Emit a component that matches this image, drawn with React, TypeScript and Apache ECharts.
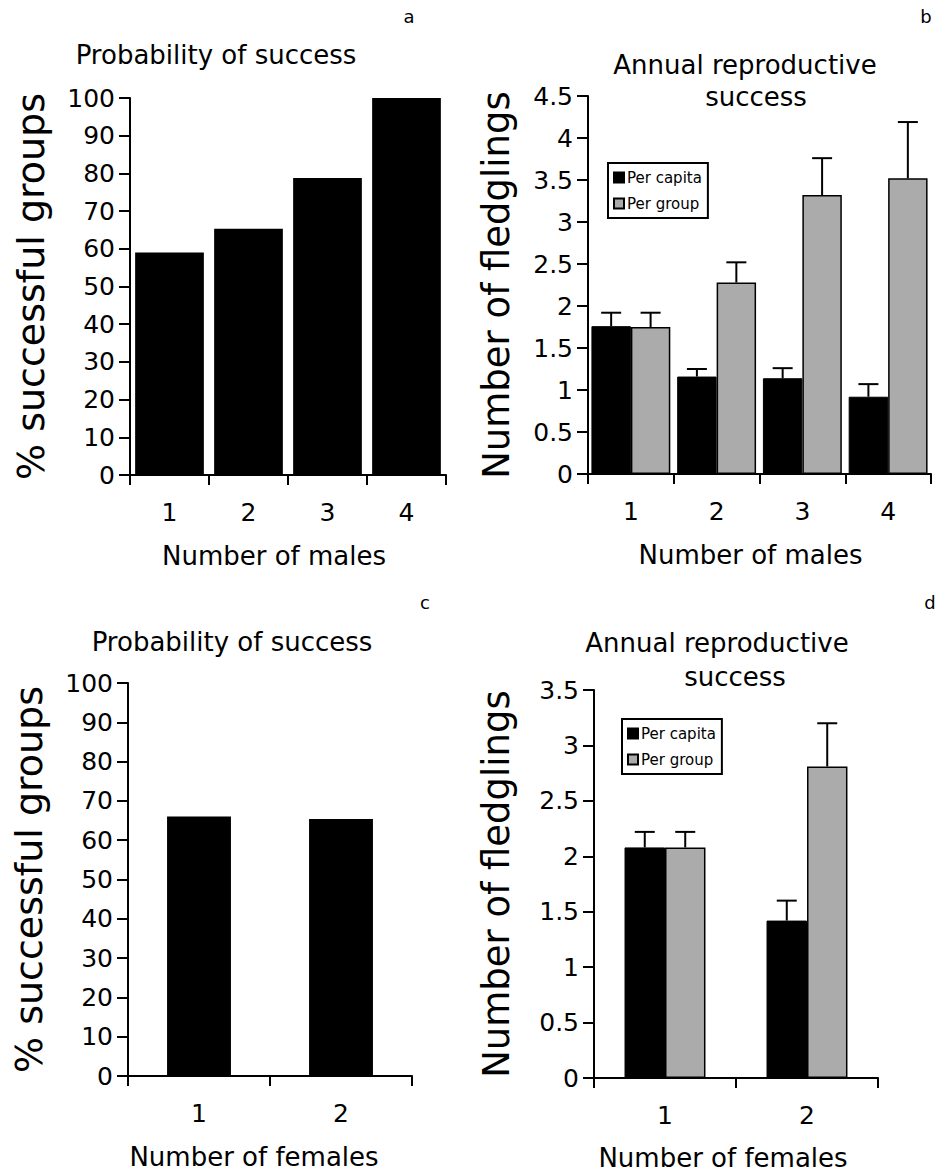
import React, { useEffect, useRef } from "react";
import * as echarts from "echarts";

// ---- data ----
const malesCats = ["1", "2", "3", "4"];
const successByMales = [59, 65.3, 78.8, 100];

const perCapitaMales = [1.76, 1.16, 1.14, 0.92];
const perCapitaMalesErr = [1.92, 1.25, 1.26, 1.07];
const perGroupMales = [1.75, 2.28, 3.32, 3.52];
const perGroupMalesErr = [1.92, 2.52, 3.76, 4.19];

const femalesCats = ["1", "2"];
const successByFemales = [66, 65.4];

const perCapitaFemales = [2.08, 1.42];
const perCapitaFemalesErr = [2.22, 1.6];
const perGroupFemales = [2.08, 2.81];
const perGroupFemalesErr = [2.22, 3.2];

const FONT = '"DejaVu Sans", "Open Sans", sans-serif';
const GRAY = "#ababab";

const GAP_B = 0.08;
const GAP_D = 0.43;

function errSeries(xIdx: number, yIdx: number, vals: number[], errs: number[], sign: number, gap: number) {
  return {
    type: "custom",
    xAxisIndex: xIdx,
    yAxisIndex: yIdx,
    silent: true,
    clip: false,
    z: 10,
    data: vals.map((v, i) => [i, errs[i], v]),
    encode: { x: 0, y: [1, 2] },
    renderItem: (params: any, api: any) => {
      const i = api.value(0);
      const top = api.coord([i, api.value(2)]);
      const err = api.coord([i, api.value(1)]);
      const band = api.size([1, 0])[0];
      const bw = (band * (1 - gap)) / 2;
      const x = top[0] + (sign * bw) / 2;
      const cap = 10;
      return {
        type: "group",
        children: [
          { type: "line", shape: { x1: x, y1: top[1], x2: x, y2: err[1] }, style: { stroke: "#000", lineWidth: 2 } },
          { type: "line", shape: { x1: x - cap, y1: err[1], x2: x + cap, y2: err[1] }, style: { stroke: "#000", lineWidth: 2 } },
        ],
      };
    },
  };
}

function xAxisCfg(grid: number, cats: string[], name: string, nameGap: number, shiftLeft: number) {
  return {
    type: "category",
    gridIndex: grid,
    data: cats,
    name,
    nameLocation: "middle",
    nameGap,
    nameTextStyle: { fontFamily: FONT, fontSize: 26, color: "#000", padding: [0, shiftLeft * 2, 0, 0] },
    axisLine: { lineStyle: { color: "#000", width: 2 } },
    axisTick: { show: true, length: 10, lineStyle: { color: "#000", width: 2 } },
    axisLabel: { fontFamily: FONT, fontSize: 25, color: "#000", margin: 25 },
    splitLine: { show: false },
  };
}

function yAxisCfg(grid: number, max: number, interval: number, name: string, nameGap: number, nameSize: number) {
  return {
    type: "value",
    gridIndex: grid,
    min: 0,
    max,
    interval,
    name,
    nameLocation: "middle",
    nameRotate: 90,
    nameGap,
    nameTextStyle: { fontFamily: FONT, fontSize: nameSize, color: "#000" },
    axisLine: { show: true, lineStyle: { color: "#000", width: 2 } },
    axisTick: { show: true, length: 11, lineStyle: { color: "#000", width: 2 } },
    axisLabel: { fontFamily: FONT, fontSize: 25, color: "#000", margin: 15 },
    splitLine: { show: false },
  };
}

function txt(text: string, x: number, y: number, size: number) {
  return {
    type: "text",
    x,
    y,
    silent: true,
    style: { text, font: `${size}px ${FONT}`, fill: "#000", textAlign: "center", textVerticalAlign: "middle" },
  };
}

function legendCfg(left: number, top: number) {
  return {
    left,
    top,
    orient: "vertical",
    data: ["Per capita", "Per group"],
    icon: "rect",
    itemWidth: 10,
    itemHeight: 10,
    itemGap: 11,
    padding: [7, 6, 7, 5],
    borderColor: "#000",
    borderWidth: 2,
    backgroundColor: "#fff",
    selectedMode: false,
    textStyle: { fontFamily: FONT, fontSize: 15, color: "#000", padding: [0, 0, 0, -2] },
  };
}

export default function App() {
  const ref = useRef<HTMLDivElement>(null);
  useEffect(() => {
    if (!ref.current) return;
    const chart = echarts.init(ref.current, undefined, { renderer: "svg" });
    const option: any = {
      animation: false,
      backgroundColor: "#fff",
      grid: [
        { left: 130, top: 98, width: 316, height: 377 },
        { left: 588, top: 96, width: 343, height: 378 },
        { left: 128, top: 683, width: 284, height: 393 },
        { left: 594, top: 690, width: 284, height: 388 },
      ],
      xAxis: [
        xAxisCfg(0, malesCats, "Number of males", 68, 14),
        xAxisCfg(1, malesCats, "Number of males", 68, 9),
        xAxisCfg(2, femalesCats, "Number of females", 68, 16),
        xAxisCfg(3, femalesCats, "Number of females", 67, 13),
      ],
      yAxis: [
        yAxisCfg(0, 100, 10, "% successful groups", 80, 38),
        yAxisCfg(1, 4.5, 0.5, "Number of fledglings", 73, 37),
        yAxisCfg(2, 100, 10, "% successful groups", 80, 38),
        yAxisCfg(3, 3.5, 0.5, "Number of fledglings", 79, 37),
      ],
      legend: [legendCfg(608, 163), legendCfg(622, 719)],
      series: [
        {
          type: "bar",
          name: "success a",
          xAxisIndex: 0,
          yAxisIndex: 0,
          data: successByMales,
          barCategoryGap: "13%",
          itemStyle: { color: "#000" },
        },
        {
          type: "bar",
          name: "Per capita",
          xAxisIndex: 1,
          yAxisIndex: 1,
          data: perCapitaMales,
          barGap: "0%",
          barCategoryGap: GAP_B * 100 + "%",
          itemStyle: { color: "#000", borderColor: "#000", borderWidth: 1 },
        },
        {
          type: "bar",
          name: "Per group",
          xAxisIndex: 1,
          yAxisIndex: 1,
          data: perGroupMales,
          barGap: "0%",
          barCategoryGap: GAP_B * 100 + "%",
          itemStyle: { color: GRAY, borderColor: "#000", borderWidth: 1.5 },
        },
        errSeries(1, 1, perCapitaMales, perCapitaMalesErr, -1, GAP_B),
        errSeries(1, 1, perGroupMales, perGroupMalesErr, 1, GAP_B),
        {
          type: "bar",
          name: "success c",
          xAxisIndex: 2,
          yAxisIndex: 2,
          data: successByFemales,
          barCategoryGap: "55%",
          itemStyle: { color: "#000" },
        },
        {
          type: "bar",
          name: "Per capita",
          xAxisIndex: 3,
          yAxisIndex: 3,
          data: perCapitaFemales,
          barGap: "0%",
          barCategoryGap: GAP_D * 100 + "%",
          itemStyle: { color: "#000", borderColor: "#000", borderWidth: 1 },
        },
        {
          type: "bar",
          name: "Per group",
          xAxisIndex: 3,
          yAxisIndex: 3,
          data: perGroupFemales,
          barGap: "0%",
          barCategoryGap: GAP_D * 100 + "%",
          itemStyle: { color: GRAY, borderColor: "#000", borderWidth: 1.5 },
        },
        errSeries(3, 3, perCapitaFemales, perCapitaFemalesErr, -1, GAP_D),
        errSeries(3, 3, perGroupFemales, perGroupFemalesErr, 1, GAP_D),
      ],
      graphic: [
        txt("a", 409, 16, 18),
        txt("b", 926, 16, 18),
        txt("c", 425, 602, 18),
        txt("d", 930, 602, 18),
        txt("Probability of success", 216, 55, 26),
        txt("Annual reproductive", 745, 65, 26),
        txt("success", 756, 97, 26),
        txt("Probability of success", 232, 642, 26),
        txt("Annual reproductive", 717, 643, 26),
        txt("success", 735, 677, 26),
      ],
    };
    chart.setOption(option);
    return () => chart.dispose();
  }, []);
  return <div ref={ref} style={{ position: "absolute", left: 0, top: 0, width: 941, height: 1174 }} />;
}
